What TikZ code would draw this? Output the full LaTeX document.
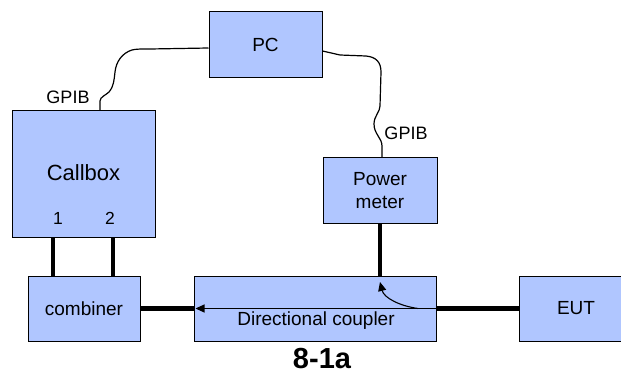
\documentclass[tikz,border=0pt]{standalone}
\usepackage{fontspec}
\setmainfont{Liberation Sans}
\usetikzlibrary{arrows.meta}
\definecolor{boxblue}{RGB}{176,198,255}
\tikzset{
  blk/.style={draw=black, line width=1pt, fill=boxblue, inner sep=0pt, align=center, font=\fontsize{19}{23}\selectfont},
  wire/.style={draw=black, line width=1.2pt},
  rf/.style={draw=black, line width=4.5pt},
  thinline/.style={draw=black, line width=1.1pt},
  lbl/.style={inner sep=0pt, font=\fontsize{18}{21}\selectfont},
  tip/.style={-{Triangle[length=9pt,width=8pt]}}
}
\begin{document}
\begin{tikzpicture}[x=1pt,y=-1pt]
\useasboundingbox (0,0) rectangle (621,374);
% blocks
\node[blk, minimum width=113pt, minimum height=66pt] (pc) at (265.5,45) {PC};
\node[blk, minimum width=143pt, minimum height=126pt, font=\fontsize{22}{26}\selectfont] (callbox) at (83.5,174) {\raisebox{3pt}{Callbox}};
\node[blk, minimum width=114pt, minimum height=66pt] (pm) at (380,191) {Power\\meter};
\node[blk, minimum width=112pt, minimum height=65pt] (comb) at (84,308.5) {combiner};
\node[blk, minimum width=242pt, minimum height=65pt] (coup) at (315,308.5) {};
\node[blk, minimum width=114pt, minimum height=65pt] (eut) at (576,308.5) {EUT};
\node[inner sep=0pt, font=\fontsize{19}{23}\selectfont] (couptxt) at (316,321) {Directional coupler};
% labels
\node[lbl] (g1) at (68,97) {GPIB};
\node[lbl] (g2) at (406,133) {GPIB};
\node[lbl, font=\fontsize{17.5}{20}\selectfont] (p1) at (58,218) {1};
\node[lbl, font=\fontsize{17.5}{20}\selectfont] (p2) at (110,218) {2};
\node[inner sep=0pt, font=\fontsize{29}{33}\selectfont\bfseries] (title) at (322,359) {8-1a};
% GPIB wires
\draw[wire] (callbox.north -| 100,0) -- (100,101) .. controls (100,97) and (106,95) .. (109,92)
  .. controls (114,86) and (114,80) .. (115,72) .. controls (116,62) and (122,53) .. (132,50)
  .. controls (136,49) and (140,49) .. (150,49) -- (pc.west |- 0,48);
\draw[wire] (pc.east |- 0,51) -- (340,55) -- (366,56) .. controls (376,57) and (381,62) .. (381,72)
  -- (380,106) .. controls (380,112) and (374,116) .. (374,124) .. controls (374,134) and (382,138) .. (382,146)
  -- (pm.north -| 382,0);
% RF lines
\draw[rf] (callbox.south -| 53,0) -- (comb.north -| 53,0);
\draw[rf] (callbox.south -| 113,0) -- (comb.north -| 113,0);
\draw[rf] (comb.east) -- (coup.west);
\draw[rf] (eut.west) -- (coup.east);
\draw[rf] (pm.south) -- (pm.south |- coup.north);
% coupler internals
\draw[thinline, tip] (coup.east) -- ([xshift=2pt]coup.west);
\coordinate (cs) at (418,308.5);
\coordinate (ce) at (380,282);
\draw[thinline, tip] (cs) .. controls (400,306) and (384,298) .. (ce);
\end{tikzpicture}
\end{document}
